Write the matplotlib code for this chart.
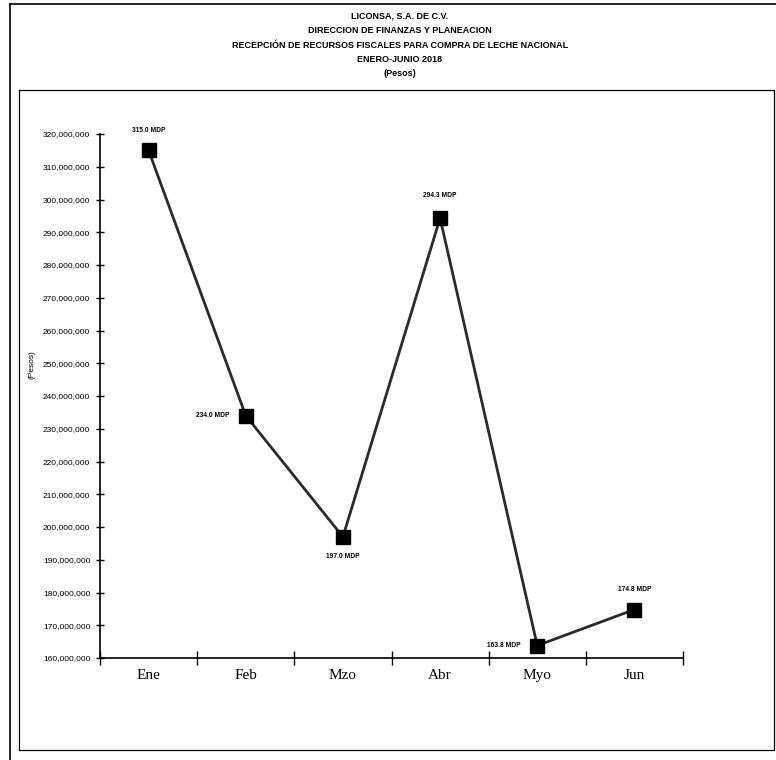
import matplotlib.pyplot as plt
from matplotlib.lines import Line2D
from matplotlib.ticker import FuncFormatter, FixedLocator

meses = ['Ene', 'Feb', 'Mzo', 'Abr', 'Myo', 'Jun']
montos = [315.0e6, 234.0e6, 197.0e6, 294.3e6, 163.8e6, 174.8e6]
etiquetas = ['315.0 MDP', '234.0 MDP', '197.0 MDP', '294.3 MDP', '163.8 MDP', '174.8 MDP']
titulo = ['LICONSA, S.A. DE C.V.',
          'DIRECCION DE FINANZAS Y PLANEACION',
          'RECEPCIÓN DE RECURSOS FISCALES PARA COMPRA DE LECHE NACIONAL',
          'ENERO-JUNIO 2018',
          '(Pesos)']

narrow = ['Liberation Sans Narrow', 'Liberation Sans', 'DejaVu Sans']

W, H = 776, 760
fig = plt.figure(figsize=(W / 100, H / 100), dpi=100)

def fx(px):
    return px / W

def fy(py):
    return 1 - py / H

# marco del documento escaneado
fig.add_artist(Line2D([fx(10), fx(776)], [fy(4), fy(4)], color='black', lw=1.2))
fig.add_artist(Line2D([fx(10), fx(10)], [fy(4), fy(760)], color='black', lw=1.2))
fig.add_artist(Line2D([fx(19), fx(774), fx(774), fx(19), fx(19)],
                      [fy(90), fy(90), fy(750), fy(750), fy(90)], color='black', lw=0.9))

for i, t in enumerate(titulo):
    fig.text(fx(400), fy(16 + i * 14.5), t, ha='center', va='center',
             fontsize=6.5, fontweight='bold', family=narrow)

ax = fig.add_axes([fx(100), fy(658), fx(683) - fx(100), fy(134) - fy(658)])
x = [i + 0.5 for i in range(len(meses))]
ax.plot(x, montos, color='#2a2a2a', lw=2.0, marker='s', markersize=9.5,
        markerfacecolor='black', markeredgecolor='black', zorder=3)

offs = [(0, 12, 'center', 'bottom'), (-12, 0, 'right', 'center'),
        (0, -12, 'center', 'top'), (0, 14, 'center', 'bottom'),
        (-12, 0, 'right', 'center'), (0, 12, 'center', 'bottom')]
for xi, yi, lab, (dx, dy, ha, va) in zip(x, montos, etiquetas, offs):
    ax.annotate(lab, (xi, yi), xytext=(dx, dy), textcoords='offset points',
                ha=ha, va=va, fontsize=4.8, fontweight='bold', family=narrow)

ax.set_xlim(0, 6)
ax.set_ylim(160e6, 320e6)
ax.yaxis.set_major_locator(FixedLocator([160e6 + 10e6 * k for k in range(17)]))
ax.yaxis.set_major_formatter(FuncFormatter(lambda v, p: f'{v:,.0f}'))
ax.set_xticks(x)
ax.set_xticklabels(meses, family=['Liberation Serif', 'DejaVu Serif'], fontsize=11)
ax.set_xticks(range(7), minor=True)
ax.tick_params(axis='x', which='major', length=0, pad=8)
ax.tick_params(axis='x', which='minor', direction='inout', length=10, width=1)
ax.tick_params(axis='y', direction='inout', length=6, width=1, pad=4)
for lab in ax.get_yticklabels():
    lab.set_family(narrow)
    lab.set_fontsize(6)

for s in ['top', 'right']:
    ax.spines[s].set_visible(False)
ax.spines['left'].set_linewidth(1.2)
ax.spines['bottom'].set_linewidth(1.2)

fig.text(fx(32), fy(365), '(Pesos)', rotation=90, ha='center', va='center',
         fontsize=6, family=narrow)

fig.savefig('out.png', dpi=100)
